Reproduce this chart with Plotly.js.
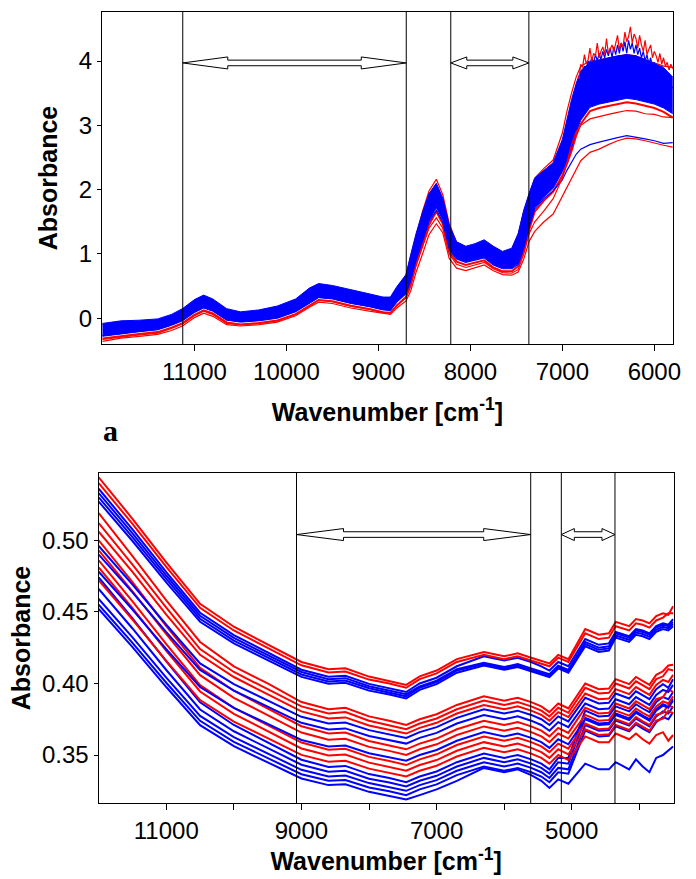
<!DOCTYPE html>
<html>
<head>
<meta charset="utf-8">
<script src="https://cdn.plot.ly/plotly-3.0.1.min.js"></script>
<style>html,body{margin:0;padding:0;background:#fff;}#chart{width:696px;height:879px;}</style>
</head>
<body>
<div id="chart"></div>
<script>
// ---------------- Panel (a): NIR spectra, absorbance ----------------
const WN_A = [12000, 11800, 11600, 11400, 11250, 11130, 11000, 10900, 10800, 10650, 10500, 10300, 10100, 9900, 9750, 9650, 9500, 9300, 9100, 8950, 8870, 8800, 8700, 8650, 8590, 8520, 8450, 8370, 8300, 8230, 8150, 8050, 7950, 7850, 7750, 7650, 7550, 7480, 7420, 7360, 7300, 7200, 7100, 7000, 6950, 6900, 6850, 6800, 6700, 6600, 6500, 6400, 6300, 6200, 6100, 6000, 5900, 5800];
const A_BLUE_BAND_HI = [-0.08, -0.04, -0.03, -0.01, 0.06, 0.15, 0.29, 0.36, 0.30, 0.15, 0.10, 0.13, 0.19, 0.30, 0.47, 0.54, 0.51, 0.44, 0.38, 0.33, 0.33, 0.49, 0.68, 0.98, 1.32, 1.65, 1.94, 2.10, 1.87, 1.45, 1.19, 1.12, 1.16, 1.22, 1.12, 1.04, 1.09, 1.32, 1.68, 1.95, 2.18, 2.30, 2.42, 2.78, 3.10, 3.40, 3.65, 3.85, 3.98, 4.02, 4.05, 4.08, 4.10, 4.08, 4.02, 3.95, 3.90, 3.75];
const A_BLUE_BAND_LO = [-0.28, -0.24, -0.21, -0.18, -0.11, -0.04, 0.09, 0.16, 0.11, -0.03, -0.06, -0.04, 0.00, 0.10, 0.24, 0.32, 0.30, 0.23, 0.18, 0.13, 0.12, 0.25, 0.38, 0.58, 0.92, 1.22, 1.52, 1.72, 1.53, 1.09, 0.93, 0.88, 0.92, 0.95, 0.84, 0.78, 0.78, 0.86, 1.11, 1.45, 1.72, 1.88, 2.02, 2.28, 2.45, 2.65, 2.90, 3.08, 3.28, 3.33, 3.36, 3.39, 3.42, 3.40, 3.37, 3.33, 3.27, 3.18];
const A_RED_HI = [-0.10, -0.06, -0.05, -0.03, 0.04, 0.13, 0.27, 0.34, 0.28, 0.13, 0.08, 0.11, 0.17, 0.28, 0.45, 0.52, 0.49, 0.42, 0.36, 0.31, 0.31, 0.47, 0.66, 0.96, 1.30, 1.66, 1.98, 2.16, 1.92, 1.47, 1.18, 1.10, 1.14, 1.20, 1.10, 1.02, 1.07, 1.30, 1.66, 1.93, 2.18, 2.33, 2.46, 2.88, 3.22, 3.50, 3.75, 3.92, 4.00, 4.02, 4.05, 4.08, 4.10, 4.08, 4.02, 3.97, 3.92, 3.90];
const A_RED_LO = [-0.315, -0.275, -0.245, -0.215, -0.145, -0.075, 0.055, 0.125, 0.075, -0.065, -0.095, -0.075, -0.035, 0.065, 0.205, 0.285, 0.265, 0.195, 0.145, 0.095, 0.085, 0.20, 0.33, 0.52, 0.85, 1.15, 1.45, 1.66, 1.47, 1.04, 0.88, 0.83, 0.87, 0.90, 0.79, 0.73, 0.73, 0.81, 1.05, 1.38, 1.66, 1.83, 1.97, 2.22, 2.40, 2.60, 2.84, 3.02, 3.22, 3.27, 3.30, 3.33, 3.36, 3.34, 3.31, 3.27, 3.21, 3.12];
const A_RED_OUT1 = [-0.33, -0.29, -0.26, -0.23, -0.16, -0.09, 0.04, 0.11, 0.06, -0.08, -0.10, -0.08, -0.04, 0.06, 0.20, 0.28, 0.26, 0.19, 0.14, 0.09, 0.08, 0.20, 0.32, 0.50, 0.82, 1.10, 1.40, 1.56, 1.40, 1.00, 0.84, 0.79, 0.83, 0.87, 0.77, 0.71, 0.70, 0.76, 1.00, 1.32, 1.50, 1.67, 1.86, 2.18, 2.42, 2.70, 2.90, 3.00, 3.10, 3.14, 3.17, 3.20, 3.23, 3.22, 3.18, 3.17, 3.13, 3.12];
const A_RED_OUT2 = [-0.36, -0.31, -0.28, -0.25, -0.19, -0.12, 0.01, 0.08, 0.03, -0.10, -0.12, -0.10, -0.06, 0.04, 0.17, 0.25, 0.23, 0.16, 0.11, 0.07, 0.06, 0.16, 0.27, 0.42, 0.72, 1.00, 1.30, 1.47, 1.33, 0.93, 0.78, 0.74, 0.78, 0.83, 0.74, 0.68, 0.67, 0.72, 0.92, 1.20, 1.35, 1.50, 1.62, 1.90, 2.05, 2.18, 2.32, 2.45, 2.58, 2.63, 2.70, 2.76, 2.80, 2.79, 2.76, 2.72, 2.69, 2.66];
const A_BLUE_OUT1 = [-0.27, -0.23, -0.20, -0.17, -0.10, -0.03, 0.10, 0.17, 0.12, -0.02, -0.05, -0.03, 0.01, 0.11, 0.25, 0.33, 0.31, 0.24, 0.19, 0.14, 0.13, 0.26, 0.39, 0.58, 0.90, 1.20, 1.50, 1.68, 1.50, 1.07, 0.92, 0.87, 0.91, 0.94, 0.83, 0.77, 0.77, 0.84, 1.08, 1.42, 1.70, 1.86, 1.98, 2.15, 2.30, 2.42, 2.55, 2.63, 2.70, 2.74, 2.78, 2.81, 2.84, 2.82, 2.79, 2.76, 2.72, 2.73];
// noisy top of the water band
const WN_SPIKE = [6820, 6800, 6780, 6760, 6740, 6720, 6700, 6680, 6660, 6640, 6620, 6600, 6580, 6560, 6540, 6520, 6500, 6480, 6460, 6440, 6420, 6400, 6380, 6360, 6340, 6320, 6300, 6280, 6260, 6240, 6220, 6200, 6180, 6160, 6140, 6120, 6100, 6080, 6060, 6040, 6020, 6000, 5980, 5960, 5940, 5920, 5900, 5880, 5860, 5840, 5820, 5800];
const A_RED_SPIKE = [3.72, 3.95, 3.90, 4.10, 3.96, 4.02, 4.20, 4.00, 4.12, 4.08, 4.28, 4.05, 4.15, 4.22, 4.10, 4.35, 4.12, 4.20, 4.25, 4.15, 4.30, 4.40, 4.18, 4.28, 4.22, 4.45, 4.30, 4.38, 4.53, 4.28, 4.42, 4.35, 4.20, 4.40, 4.25, 4.15, 4.32, 4.10, 4.18, 4.25, 4.05, 4.15, 4.08, 3.98, 4.12, 3.95, 4.05, 3.92, 3.98, 3.86, 3.95, 3.88];
const A_BLUE_SPIKE = [3.60, 3.80, 3.85, 3.92, 3.88, 4.00, 3.95, 4.05, 3.98, 4.10, 4.00, 4.12, 4.02, 4.15, 4.05, 4.18, 4.08, 4.20, 4.06, 4.22, 4.10, 4.25, 4.12, 4.28, 4.15, 4.30, 4.12, 4.32, 4.18, 4.28, 4.12, 4.25, 4.10, 4.20, 4.05, 4.15, 4.00, 4.10, 3.95, 4.05, 3.90, 3.98, 3.85, 3.92, 3.78, 3.85, 3.70, 3.75, 3.62, 3.68, 3.55, 3.60];
const A_REGIONS = [[11127, 8697], [8213, 7364]];
const A_ARROW_Y = 3.97;
const A_XTICKS = [11000, 10000, 9000, 8000, 7000, 6000];
const A_XTICKTEXT = ['11000', '10000', '9000', '8000', '7000', '6000'];
const A_YTICKS = [0, 1, 2, 3, 4];

// ---------------- Panel (b): baseline-region spectra ----------------
const WN_B = [12000, 11500, 11000, 10500, 10000, 9500, 9000, 8600, 8350, 8000, 7700, 7450, 7250, 7000, 6700, 6300, 6000, 5800, 5600, 5450, 5330, 5200, 5050, 4800, 4600, 4450, 4350, 4150, 4050, 3950, 3850, 3750, 3650, 3570, 3500];
const B_U1_RED = [.544, .515, .4846, .4556, .4396, .4273, .415, .4099, .4106, .4048, .4019, .399, .405, .409, .417, .422, .419, .421, .418, .416, .414, .420, .417, .438, .434, .435, .443, .440, .445, .444, .442, .447, .449, .448, .454];
const B_U2_RED = [.540, .5114, .4814, .4528, .437, .4249, .4127, .4077, .4084, .4027, .3999, .397, .403, .407, .415, .420, .417, .419, .416, .414, .412, .418, .415, .435, .431, .432, .440, .437, .442, .441, .439, .444, .446, .449, .449];
const B_U3_BLUE = [.536, .5076, .4778, .4494, .4338, .4217, .4096, .4047, .4054, .3997, .3968, .394, .400, .404, .412, .419, .416, .418, .415, .412, .409, .415, .412, .431, .427, .428, .436, .433, .438, .437, .435, .440, .442, .441, .445];
const B_U4_BLUE = [.533, .5049, .4754, .4473, .4318, .4199, .408, .403, .4037, .3981, .3953, .3925, .398, .402, .410, .4145, .4115, .4135, .4105, .4085, .4065, .4125, .4095, .429, .425, .426, .435, .432, .437, .436, .434, .439, .441, .440, .443];
const B_U5_BLUE = [.530, .5022, .473, .4452, .4299, .4181, .4063, .4014, .4021, .3966, .3938, .391, .397, .401, .409, .4135, .4105, .4125, .4095, .4075, .4055, .4115, .4085, .4275, .4235, .4245, .4335, .4305, .4355, .4345, .4325, .4375, .4395, .4385, .4415];
const B_U6_BLUE = [.527, .4995, .4706, .4431, .428, .4163, .4046, .3998, .4005, .395, .3923, .3895, .3955, .3995, .4075, .4125, .4095, .4115, .4085, .4065, .4045, .4105, .4075, .426, .422, .423, .432, .429, .434, .433, .431, .436, .438, .437, .440];
const B_M1_RED = [.519, .489, .458, .429, .412, .400, .387, .382, .383, .377, .374, .371, .375, .3785, .385, .391, .388, .390, .387, .384, .380, .386, .3825, .400, .396, .3965, .403, .3995, .4045, .4015, .399, .406, .4085, .4125, .413];
const B_M2_RED = [.512, .483, .453, .424, .408, .396, .384, .379, .380, .374, .371, .368, .372, .3755, .382, .388, .385, .387, .384, .381, .377, .383, .3795, .397, .393, .3935, .400, .3965, .4015, .3985, .396, .403, .405, .410, .409];
const B_M3_RED = [.506, .478, .448, .420, .4045, .3925, .3805, .3756, .3763, .3706, .3678, .365, .369, .3725, .379, .385, .382, .384, .381, .378, .374, .380, .3765, .393, .389, .3895, .396, .3925, .3975, .3945, .392, .399, .4025, .401, .406];
const B_M4_BLUE = [.496, .469, .441, .414, .3995, .388, .3767, .372, .3727, .3674, .3647, .362, .366, .3695, .376, .382, .379, .381, .378, .375, .371, .377, .3735, .390, .386, .3865, .393, .3895, .3945, .3915, .389, .396, .3995, .397, .403];
const B_M5_BLUE = [.490, .4636, .4359, .4095, .395, .3837, .3725, .3679, .3686, .3633, .3606, .358, .362, .3655, .372, .378, .375, .377, .374, .371, .367, .373, .3695, .386, .382, .3825, .389, .3855, .3905, .3875, .385, .392, .3955, .394, .399];
const B_M6_RED = [.500, .4708, .4401, .4109, .3949, .3825, .3701, .365, .3657, .3598, .3569, .354, .358, .3615, .368, .374, .371, .373, .370, .367, .363, .369, .3655, .383, .379, .3795, .386, .3825, .3875, .3845, .382, .389, .3905, .396, .394];
const B_M7_RED = [.493, .4644, .4344, .4058, .390, .3779, .3657, .3607, .3614, .3557, .3529, .350, .354, .3575, .364, .370, .367, .369, .366, .363, .359, .365, .3615, .378, .374, .3745, .381, .3775, .3825, .3795, .377, .384, .3875, .386, .391];
const B_M8_BLUE = [.478, .4516, .4239, .3975, .383, .3717, .3605, .3559, .3566, .3513, .3486, .346, .350, .3535, .360, .366, .363, .365, .362, .359, .355, .361, .3575, .375, .371, .3715, .378, .3745, .3795, .3765, .374, .381, .3845, .383, .388];
const B_M9_RED = [.486, .4574, .4274, .3988, .383, .3709, .3587, .3537, .3544, .3487, .3459, .343, .347, .3505, .357, .363, .360, .362, .359, .356, .352, .358, .3545, .372, .368, .3685, .375, .3715, .3765, .3735, .371, .378, .3795, .385, .383];
const B_M10_RED = [.481, .4526, .4228, .3944, .3788, .3667, .3546, .3497, .3504, .3447, .3418, .339, .343, .3465, .353, .359, .356, .358, .355, .352, .348, .354, .3505, .368, .364, .3645, .371, .3675, .3725, .3695, .367, .374, .3755, .381, .379];
const B_M11_RED = [.472, .4446, .4158, .3884, .3734, .3617, .3501, .3453, .346, .3405, .3377, .335, .339, .3425, .349, .355, .352, .354, .351, .348, .344, .350, .3465, .363, .359, .359, .365, .361, .365, .361, .358, .364, .366, .360, .364];
const B_M12_BLUE = [.474, .4454, .4154, .3868, .371, .3589, .3467, .3417, .3424, .3367, .3339, .331, .335, .3385, .345, .351, .348, .350, .347, .344, .340, .348, .348, .381, .377, .3775, .384, .3805, .3855, .3825, .380, .387, .3905, .389, .394];
const B_M13_BLUE = [.466, .4384, .4094, .3818, .3666, .3549, .3432, .3384, .339, .3335, .3308, .328, .332, .3355, .342, .348, .345, .347, .344, .341, .337, .345, .344, .376, .372, .3725, .379, .3755, .3805, .3775, .375, .382, .3855, .384, .389];
const B_M14_BLUE = [.459, .4322, .4041, .3773, .3625, .3511, .3397, .335, .3357, .3304, .3277, .325, .329, .3325, .339, .345, .342, .344, .341, .338, .334, .341, .340, .371, .367, .3675, .374, .3705, .3755, .3725, .370, .377, .3805, .379, .384];
const B_M15_BLUE = [.455, .4284, .4005, .3739, .3592, .3479, .3366, .332, .3326, .3273, .3247, .322, .326, .3295, .336, .342, .339, .341, .338, .335, .331, .338, .337, .367, .363, .3635, .370, .3665, .3715, .3685, .366, .373, .3765, .375, .380];
const B_M16_BLUE = [.452, .4254, .3975, .3709, .3562, .3449, .3336, .329, .3296, .3243, .3217, .319, .322, .326, .332, .341, .338, .340, .336, .332, .327, .333, .330, .344, .340, .340, .345, .340, .347, .342, .338, .348, .350, .353, .356];
const B_REGIONS = [[9073, 5607], [5154, 4360]];
const B_ARROW_Y = 0.504;
const B_XTICKS = [11000, 9000, 7000, 5000];
const B_XTICKTEXT = ['11000', '9000', '7000', '5000'];
const B_XMINOR = [10000, 8000, 6000, 4000];
const B_YTICKS = [0.35, 0.40, 0.45, 0.50];

// ---------------- build ----------------
const W = 696, H = 879;
const RED = '#ff0000', BLUE = '#0000ff';
const FONT = 'Liberation Sans, Arial, Helvetica, sans-serif';

const domA = {x: [102 / W, 673 / W], y: [1 - 344 / H, 1 - 12 / H]};
const domB = {x: [98.5 / W, 673.7 / W], y: [1 - 803 / H, 1 - 473 / H]};
const rangeA = {x: [12005, 5797], y: [-0.40, 4.762]};
const rangeB = {x: [12003, 3491], y: [0.3165, 0.547]};

function line(x, y, color, width, xa, ya, extra) {
  return Object.assign({x: x, y: y, type: 'scatter', mode: 'lines', xaxis: xa, yaxis: ya,
    line: {color: color, width: width}, hoverinfo: 'skip'}, extra || {});
}

const traces = [];
// panel a
traces.push(line(WN_A, A_RED_HI, RED, 1.2, 'x', 'y'));
traces.push(line(WN_A, A_RED_LO, RED, 2, 'x', 'y'));
traces.push(line(WN_A, A_BLUE_BAND_LO, BLUE, 1, 'x', 'y'));
traces.push(line(WN_A, A_BLUE_BAND_HI, BLUE, 1, 'x', 'y', {fill: 'tonexty', fillcolor: BLUE}));
traces.push(line(WN_SPIKE, A_BLUE_SPIKE, BLUE, 1.2, 'x', 'y'));
traces.push(line(WN_SPIKE, A_RED_SPIKE, RED, 1.2, 'x', 'y'));
traces.push(line(WN_A, A_BLUE_OUT1, BLUE, 1.2, 'x', 'y'));
traces.push(line(WN_A, A_RED_OUT1, RED, 1.2, 'x', 'y'));
traces.push(line(WN_A, A_RED_OUT2, RED, 1.2, 'x', 'y'));

// panel b
const bSeries = [
  [B_M16_BLUE, BLUE], [B_M15_BLUE, BLUE], [B_M14_BLUE, BLUE], [B_M13_BLUE, BLUE], [B_M12_BLUE, BLUE],
  [B_M11_RED, RED], [B_M10_RED, RED], [B_M9_RED, RED], [B_M8_BLUE, BLUE], [B_M7_RED, RED], [B_M6_RED, RED],
  [B_M5_BLUE, BLUE], [B_M4_BLUE, BLUE], [B_M3_RED, RED], [B_M2_RED, RED], [B_M1_RED, RED],
  [B_U6_BLUE, BLUE], [B_U5_BLUE, BLUE], [B_U4_BLUE, BLUE], [B_U3_BLUE, BLUE], [B_U2_RED, RED], [B_U1_RED, RED]
];
bSeries.forEach(s => traces.push(line(WN_B, s[0], s[1], 2, 'x2', 'y2')));

// shapes: region boundaries and double-headed hollow arrows
function pxToData(px, range, domain, size) {
  return px * Math.abs(range[1] - range[0]) / ((domain[1] - domain[0]) * size);
}
function arrowPath(xa, xb, y, hl, hh, sh) {
  const p = [[xa, y], [xa - hl, y + hh], [xa - hl, y + sh], [xb + hl, y + sh], [xb + hl, y + hh], [xb, y],
             [xb + hl, y - hh], [xb + hl, y - sh], [xa - hl, y - sh], [xa - hl, y - hh]];
  return 'M' + p.map(q => q[0] + ',' + q[1]).join(' L') + ' Z';
}
const shapes = [];
function addRegions(regions, xref, yref, arrowY, range, dom, headPx) {
  regions.forEach((r, i) => {
    r.forEach(xv => shapes.push({type: 'line', xref: xref, yref: yref + ' domain', x0: xv, x1: xv, y0: 0, y1: 1,
      line: {color: '#000', width: 1}}));
    const hl = pxToData(headPx[i], range.x, dom.x, W);
    const hh = pxToData(6, range.y, dom.y, H);
    const sh = pxToData(2.8, range.y, dom.y, H);
    shapes.push({type: 'path', xref: xref, yref: yref, path: arrowPath(r[0], r[1], arrowY, hl, hh, sh),
      fillcolor: '#fff', line: {color: '#000', width: 1}});
  });
}
addRegions(A_REGIONS, 'x', 'y', A_ARROW_Y, rangeA, domA, [45, 16]);
addRegions(B_REGIONS, 'x2', 'y2', B_ARROW_Y, rangeB, domB, [47, 13]);

const axisCommon = {
  showline: true, mirror: true, linecolor: '#000', linewidth: 1, showgrid: false, zeroline: false,
  ticks: 'outside', tickcolor: '#000', tickwidth: 1,
  tickfont: {family: FONT, size: 24, color: '#000'}
};
const titleFont = {family: FONT, size: 25, color: '#000'};

const layout = {
  width: W, height: H, margin: {l: 0, r: 0, t: 0, b: 0},
  paper_bgcolor: '#fff', plot_bgcolor: '#fff', showlegend: false,
  xaxis: Object.assign({}, axisCommon, {domain: domA.x, range: rangeA.x, anchor: 'y', tickvals: A_XTICKS,
    ticktext: A_XTICKTEXT, ticklen: 6,
    title: {text: '<b>Wavenumber [cm<sup>-1</sup>]</b>', font: titleFont, standoff: 19}}),
  yaxis: Object.assign({}, axisCommon, {domain: domA.y, range: rangeA.y, anchor: 'x', tickvals: A_YTICKS,
    ticklen: 4, title: {text: '<b>Absorbance</b>', font: titleFont, standoff: 14}}),
  xaxis2: Object.assign({}, axisCommon, {domain: domB.x, range: rangeB.x, anchor: 'y2', tickvals: B_XTICKS,
    ticktext: B_XTICKTEXT, ticklen: 6,
    minor: {tickvals: B_XMINOR, ticks: 'outside', ticklen: 6, tickcolor: '#000', tickwidth: 1, showgrid: false},
    title: {text: '<b>Wavenumber [cm<sup>-1</sup>]</b>', font: titleFont, standoff: 6}}),
  yaxis2: Object.assign({}, axisCommon, {domain: domB.y, range: rangeB.y, anchor: 'x2', tickvals: B_YTICKS,
    tickformat: '.2f', ticklen: 4, title: {text: '<b>Absorbance</b>', font: titleFont, standoff: 4}}),
  shapes: shapes,
  annotations: [{text: '<b>a</b>', xref: 'paper', yref: 'paper', x: 110 / W, y: 1 - 430 / H,
    xanchor: 'center', yanchor: 'middle',
    showarrow: false, font: {family: 'Liberation Serif, Times New Roman, serif', size: 30, color: '#000'}}]
};

Plotly.newPlot('chart', traces, layout, {staticPlot: true, displayModeBar: false});
</script>
</body>
</html>
